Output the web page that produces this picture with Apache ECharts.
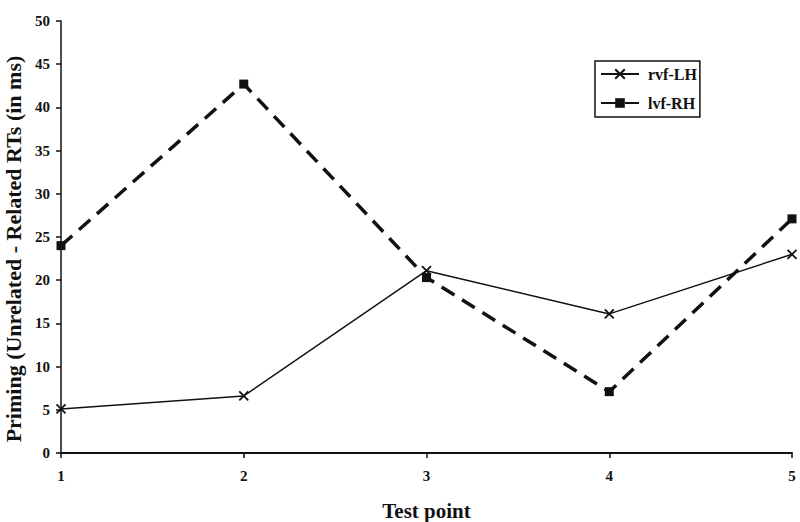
<!DOCTYPE html>
<html>
<head>
<meta charset="utf-8">
<script src="https://cdn.jsdelivr.net/npm/echarts@6/dist/echarts.min.js"></script>
<style>
  html, body { margin: 0; padding: 0; background: #fff; }
  #chart { width: 800px; height: 522px; }
</style>
</head>
<body>
<div id="chart"></div>
<script>
(function() {
  var testPoints = ['1', '2', '3', '4', '5'];
  var rvfLH = [5.1, 6.6, 21.1, 16.1, 23.0];
  var lvfRH = [24.0, 42.7, 20.3, 7.1, 27.1];
  var yTicks = { min: 0, max: 50, interval: 5 };

  var ink = '#111';
  var serif = '"Liberation Serif", "DejaVu Serif", serif';
  var crossPath = 'path://M0,0L10,10M10,0L0,10';

  var chart = echarts.init(document.getElementById('chart'), null, { renderer: 'svg' });
  chart.setOption({
    animation: false,
    backgroundColor: '#fff',
    textStyle: { fontFamily: serif, color: ink },
    grid: { left: 61, right: 8, top: 21, bottom: 69, containLabel: false, outerBoundsMode: 'none' },
    legend: {
      orient: 'vertical',
      left: 595,
      top: 61,
      itemWidth: 38,
      itemHeight: 12,
      itemGap: 13,
      padding: [5, 3, 6, 5],
      borderColor: ink,
      borderWidth: 1.5,
      textStyle: { fontFamily: serif, fontWeight: 'bold', fontSize: 16, color: ink, padding: [0, 0, 0, 4] },
      data: ['rvf-LH', 'lvf-RH']
    },
    xAxis: {
      type: 'category',
      data: testPoints,
      boundaryGap: false,
      name: 'Test point',
      nameLocation: 'middle',
      nameGap: 47,
      nameTextStyle: { fontFamily: serif, fontWeight: 'bold', fontSize: 21, color: ink },
      axisLine: { lineStyle: { color: ink, width: 2 } },
      axisTick: { show: true, length: 5, alignWithLabel: true, lineStyle: { color: ink, width: 1.5 } },
      axisLabel: { color: ink, fontFamily: serif, fontWeight: 'bold', fontSize: 15, margin: 15 },
      splitLine: { show: false }
    },
    yAxis: {
      type: 'value',
      min: yTicks.min,
      max: yTicks.max,
      interval: yTicks.interval,
      name: 'Priming (Unrelated - Related RTs (in ms)',
      nameLocation: 'middle',
      nameGap: 35,
      nameTextStyle: { fontFamily: serif, fontWeight: 'bold', fontSize: 22, color: ink, padding: [0, 24, 0, 0] },
      axisLine: { show: true, lineStyle: { color: ink, width: 1.5 } },
      axisTick: { show: true, length: 5, lineStyle: { color: ink, width: 1.5 } },
      axisLabel: { color: ink, fontFamily: serif, fontWeight: 'bold', fontSize: 15, margin: 11 },
      splitLine: { show: false }
    },
    series: [
      {
        name: 'rvf-LH',
        type: 'line',
        data: rvfLH,
        symbol: crossPath,
        symbolSize: 9,
        lineStyle: { color: ink, width: 1.5 },
        itemStyle: { color: ink, borderColor: ink, borderWidth: 1.8 },
        z: 3
      },
      {
        name: 'lvf-RH',
        type: 'line',
        data: lvfRH,
        symbol: 'rect',
        symbolSize: 9,
        lineStyle: { color: ink, width: 3.5, type: [15, 9] },
        itemStyle: { color: ink, borderWidth: 0 },
        z: 2
      }
    ]
  });
  window.addEventListener('resize', function() { chart.resize(); });
})();
</script>
</body>
</html>
